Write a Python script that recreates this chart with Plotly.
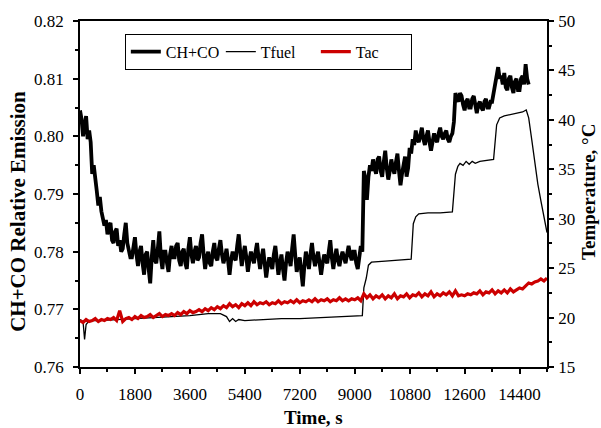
import plotly.graph_objects as go

# ---- data ----
t_chco = list(range(0, 14750, 50))
chco = [
    0.8045, 0.8030, 0.8000, 0.8025, 0.8035, 0.7995, 0.8010, 0.7990, 0.7935, 0.7950,
    0.7920, 0.7905, 0.7880, 0.7895, 0.7870, 0.7860, 0.7845, 0.7855, 0.7830, 0.7845,
    0.7850, 0.7820, 0.7815, 0.7835, 0.7840, 0.7810, 0.7820, 0.7800, 0.7805, 0.7830,
    0.7850, 0.7815, 0.7800, 0.7790, 0.7790, 0.7810, 0.7825, 0.7795, 0.7775, 0.7800,
    0.7810, 0.7780, 0.7760, 0.7795, 0.7800, 0.7770, 0.7745, 0.7790, 0.7820, 0.7785,
    0.7780, 0.7805, 0.7835, 0.7790, 0.7770, 0.7800, 0.7800, 0.7780, 0.7765, 0.7795,
    0.7810, 0.7790, 0.7790, 0.7810, 0.7815, 0.7785, 0.7775, 0.7800, 0.7805, 0.7780,
    0.7770, 0.7805, 0.7825, 0.7795, 0.7780, 0.7800, 0.7810, 0.7785, 0.7790, 0.7815,
    0.7830, 0.7795, 0.7770, 0.7790, 0.7800, 0.7780, 0.7775, 0.7800, 0.7815, 0.7790,
    0.7785, 0.7805, 0.7820, 0.7795, 0.7780, 0.7790, 0.7805, 0.7785, 0.7760, 0.7785,
    0.7800, 0.7790, 0.7785, 0.7810, 0.7830, 0.7800, 0.7775, 0.7795, 0.7810, 0.7790,
    0.7765, 0.7785, 0.7800, 0.7790, 0.7780, 0.7800, 0.7815, 0.7790, 0.7770, 0.7790,
    0.7805, 0.7780, 0.7755, 0.7775, 0.7790, 0.7780, 0.7770, 0.7795, 0.7810, 0.7785,
    0.7760, 0.7780, 0.7795, 0.7770, 0.7750, 0.7780, 0.7800, 0.7790, 0.7775, 0.7805,
    0.7830, 0.7795, 0.7765, 0.7780, 0.7790, 0.7765, 0.7740, 0.7775, 0.7800, 0.7785,
    0.7770, 0.7795, 0.7815, 0.7790, 0.7775, 0.7790, 0.7800, 0.7780, 0.7760, 0.7780,
    0.7795, 0.7785, 0.7780, 0.7800, 0.7820, 0.7790, 0.7770, 0.7790, 0.7805, 0.7785,
    0.7775, 0.7790, 0.7800, 0.7790, 0.7780, 0.7795, 0.7810, 0.7795, 0.7785, 0.7800,
    0.7800, 0.7780, 0.7770, 0.7790, 0.7810, 0.7800, 0.7940, 0.7925, 0.7890, 0.7930,
    0.7950, 0.7940, 0.7960, 0.7945, 0.7935, 0.7960, 0.7965, 0.7940, 0.7930, 0.7955,
    0.7975, 0.7945, 0.7925, 0.7940, 0.7960, 0.7945, 0.7935, 0.7955, 0.7970, 0.7940,
    0.7915, 0.7935, 0.7950, 0.7965, 0.7930, 0.7945, 0.7980, 0.7970, 0.7995, 0.7985,
    0.8010, 0.7995, 0.7990, 0.8005, 0.8015, 0.7995, 0.7985, 0.8000, 0.8010, 0.7990,
    0.7975, 0.7990, 0.8005, 0.7995, 0.7990, 0.8005, 0.8015, 0.8000, 0.7995, 0.8005,
    0.8010, 0.7995, 0.7990, 0.8000, 0.8005, 0.8025, 0.8075, 0.8065, 0.8060, 0.8075,
    0.8070, 0.8055, 0.8045, 0.8060, 0.8065, 0.8050, 0.8050, 0.8065, 0.8070, 0.8055,
    0.8040, 0.8055, 0.8060, 0.8050, 0.8045, 0.8060, 0.8065, 0.8050, 0.8050, 0.8060,
    0.8060, 0.8075, 0.8090, 0.8110, 0.8120, 0.8100, 0.8105, 0.8090, 0.8110, 0.8085,
    0.8080, 0.8100, 0.8105, 0.8085, 0.8075, 0.8095, 0.8100, 0.8080, 0.8080, 0.8100,
    0.8105, 0.8090, 0.8125, 0.8100, 0.8090,
]

t_fuel = [0, 100, 150, 200, 300, 600, 1200, 2400, 3600, 4200, 4600, 4800, 4900, 5000,
          5100, 5200, 5400, 6000, 6600, 7200, 7800, 8400, 9000, 9250, 9300, 9380, 9450,
          9550, 10000, 10400, 10850, 10920, 11000, 11100, 11400, 11800, 12200, 12300,
          12380, 12450, 12550, 12650, 12750, 12850, 12950, 13100, 13300, 13550, 13650,
          13750, 13900, 14200, 14500, 14620, 14700, 14800, 14900, 15000, 15100, 15200, 15300]
tfuel = [19.8, 19.6, 17.8, 19.3, 19.7, 19.7, 19.8, 20.0, 20.2, 20.4, 20.4, 20.1, 19.6, 19.9,
         19.6, 19.8, 19.7, 19.8, 19.9, 19.9, 20.0, 20.1, 20.2, 20.2, 23.0, 24.0, 25.3,
         25.6, 25.7, 25.8, 25.9, 29.5, 30.2, 30.5, 30.6, 30.6, 30.7, 34.5,
         35.3, 35.6, 35.4, 35.8, 35.5, 35.8, 35.6, 35.8, 35.9, 36.0, 39.5,
         40.2, 40.4, 40.6, 40.8, 41.0, 40.2, 38.0, 35.5, 33.5, 31.8, 30.3, 28.6]

t_tac = list(range(0, 15400, 100))
tac = [
    19.7, 19.5, 19.8, 19.6, 19.7, 19.9, 19.6, 19.8, 19.7, 19.9,
    19.8, 20.0, 19.7, 20.7, 19.6, 19.9, 20.0, 19.8, 20.1, 19.9,
    20.2, 20.0, 20.1, 20.3, 20.0, 20.2, 20.4, 20.1, 20.3, 20.2,
    20.4, 20.2, 20.5, 20.3, 20.6, 20.4, 20.7, 20.5, 20.6, 20.8,
    20.6, 20.9, 20.7, 21.0, 20.8, 21.1, 20.9, 21.2, 21.0, 21.4,
    21.1, 21.3, 21.0, 21.4, 21.2, 21.5, 21.2, 21.6, 21.3, 21.5,
    21.4, 21.6, 21.3, 21.5, 21.4, 21.7, 21.4, 21.6, 21.5, 21.7,
    21.5, 21.8, 21.5, 21.7, 21.6, 21.8, 21.6, 21.9, 21.6, 21.8,
    21.7, 21.9, 21.6, 21.8, 21.7, 22.0, 21.7, 21.9, 21.7, 21.9,
    21.8, 22.0, 21.7, 22.4, 22.0, 22.3, 21.9, 22.2, 22.0, 22.3,
    21.9, 22.2, 22.0, 22.4, 21.9, 22.2, 22.1, 22.4, 22.0, 22.3,
    22.2, 22.5, 22.1, 22.4, 22.2, 22.6, 22.1, 22.4, 22.2, 22.5,
    22.3, 22.6, 22.2, 22.7, 22.2, 22.3, 22.2, 22.4, 22.3, 22.5,
    22.4, 22.7, 22.3, 22.6, 22.5, 22.8, 22.4, 22.7, 22.5, 22.8,
    22.5, 22.9, 22.6, 22.8, 23.0, 22.9, 23.2, 23.5, 23.4, 23.6,
    23.7, 23.9, 23.7, 24.0,
]

x_ticks = [0, 1800, 3600, 5400, 7200, 9000, 10800, 12600, 14400]
x_labels = ["0", "1800", "3600", "5400", "7200", "9000", "10800", "12600", "14400"]
y1_ticks = [0.76, 0.77, 0.78, 0.79, 0.80, 0.81, 0.82]
y1_labels = ["0.76", "0.77", "0.78", "0.79", "0.80", "0.81", "0.82"]
y2_ticks = [15, 20, 25, 30, 35, 40, 45, 50]

FONT = "Liberation Serif, Times New Roman, serif"
RED = "#cc0000"

fig = go.Figure()
fig.add_trace(go.Scatter(x=t_chco, y=chco, name="CH+CO", mode="lines",
                         line=dict(color="black", width=3.8)))
fig.add_trace(go.Scatter(x=t_fuel, y=tfuel, name="Tfuel", mode="lines", yaxis="y2",
                         line=dict(color="black", width=1.3)))
fig.add_trace(go.Scatter(x=t_tac, y=tac, name="Tac", mode="lines", yaxis="y2",
                         line=dict(color=RED, width=3.2)))

axis_common = dict(showline=True, linecolor="black", linewidth=1.5, ticks="outside",
                   tickcolor="black", ticklen=5, tickwidth=1.5, showgrid=False,
                   zeroline=False, tickfont=dict(family=FONT, size=17, color="black"))
minor_common = dict(ticks="outside", ticklen=3, tickcolor="black", tickwidth=1.5)

fig.update_layout(
    width=601, height=428,
    margin=dict(l=80, r=54, t=17, b=61),
    paper_bgcolor="white", plot_bgcolor="white",
    font=dict(family=FONT, color="black"),
    showlegend=True,
    legend=dict(orientation="h", x=0.096, y=0.963, xanchor="left", yanchor="top",
                bordercolor="black", borderwidth=1, bgcolor="white",
                font=dict(family=FONT, size=16, color="black"),
                entrywidth=50, itemwidth=30, tracegroupgap=0),
    xaxis=dict(range=[0, 15300], tickvals=x_ticks, ticktext=x_labels, mirror=True,
               ticklabelstandoff=6,
               minor=dict(dtick=900, tick0=0, **minor_common),
               **axis_common),
    yaxis=dict(range=[0.76, 0.82], tickvals=y1_ticks, ticktext=y1_labels,
               ticklabelstandoff=6,
               minor=dict(dtick=0.005, tick0=0.76, **minor_common),
               **axis_common),
    yaxis2=dict(range=[15, 50], tickvals=y2_ticks, overlaying="y", side="right", anchor="x",
                ticklabelstandoff=1,
                minor=dict(dtick=2.5, tick0=15, **minor_common),
                **axis_common),
    annotations=[
        dict(text="<b>Time, s</b>", xref="paper", yref="paper", x=0.5, y=-0.146,
             xanchor="center", yanchor="middle", showarrow=False,
             font=dict(family=FONT, size=19, color="black")),
        dict(text="<b>CH+CO Relative Emission</b>", xref="paper", yref="paper",
             x=-0.133, y=0.451, textangle=-90, xanchor="center", yanchor="middle",
             showarrow=False, font=dict(family=FONT, size=21, color="black")),
        dict(text="<b>Temperature, °C</b>", xref="paper", yref="paper",
             x=1.09, y=0.506, textangle=-90, xanchor="center", yanchor="middle",
             showarrow=False, font=dict(family=FONT, size=19, color="black")),
    ],
)

fig.write_html("out.html")
